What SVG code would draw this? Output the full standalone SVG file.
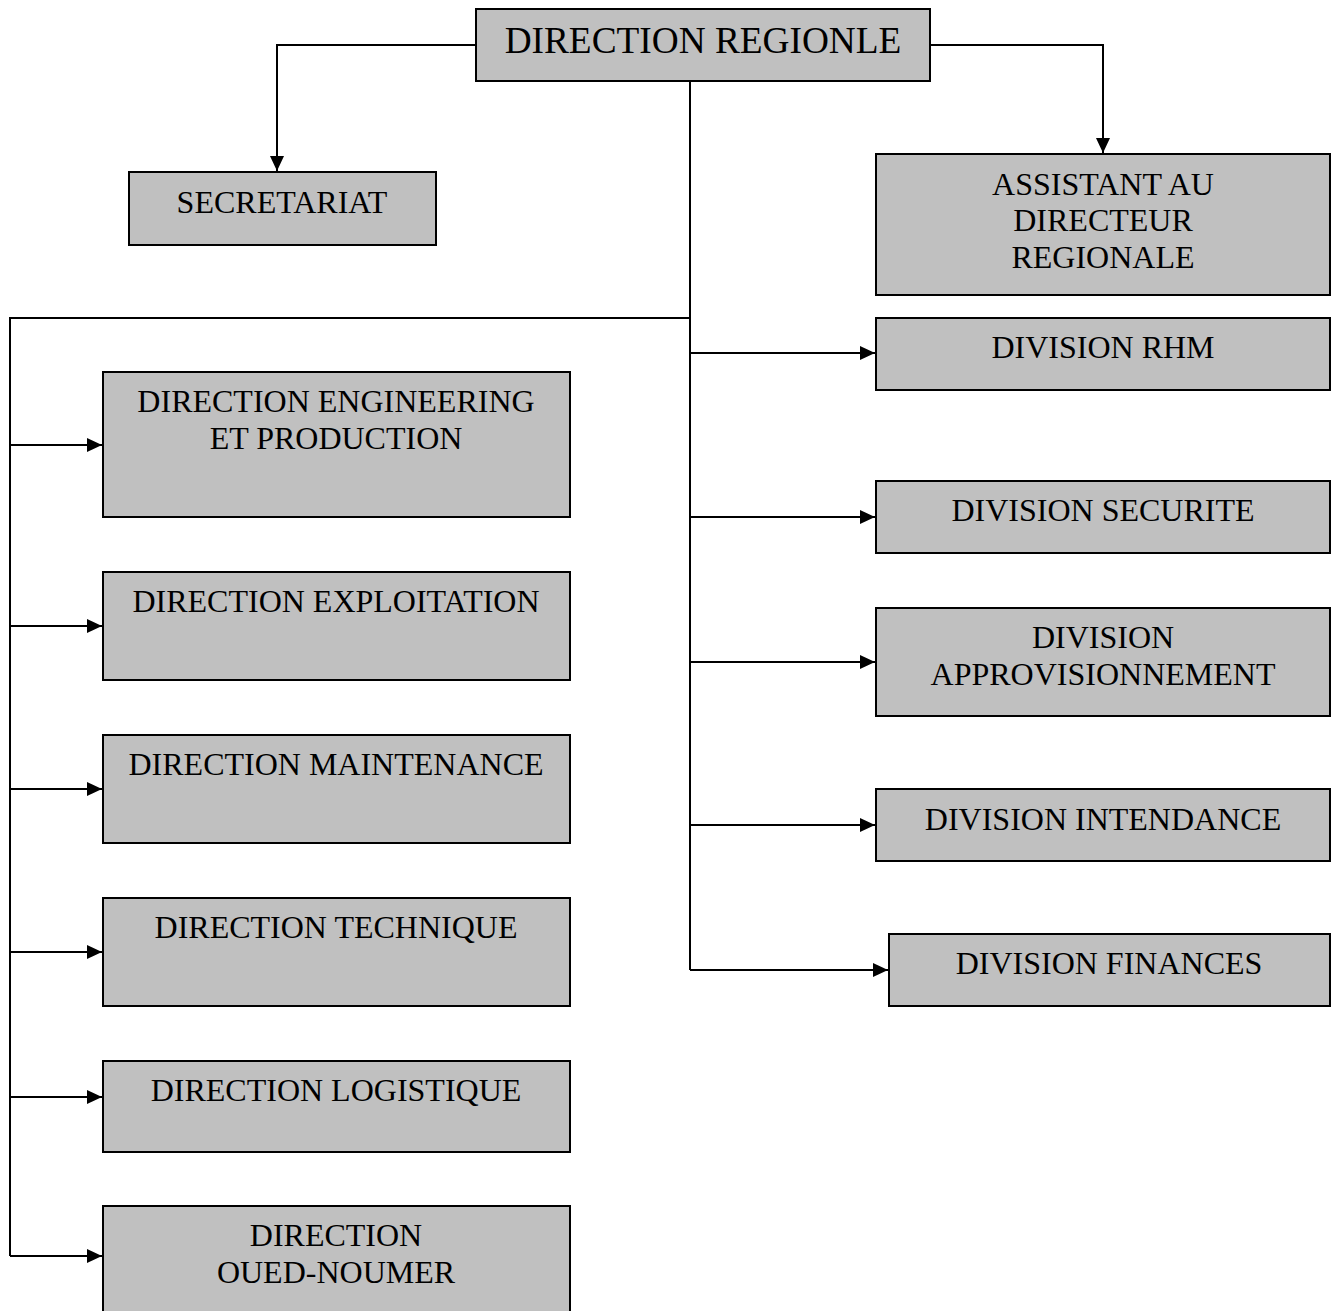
<svg xmlns="http://www.w3.org/2000/svg" width="1334" height="1311" viewBox="0 0 1334 1311">
<defs>
<style>
.box{fill:#c0c0c0;stroke:#000;stroke-width:2}
.t{font-family:"Liberation Serif","Times New Roman",serif;font-size:32px;fill:#000;text-anchor:middle}
.big{font-size:37.3px}
.c{fill:none;stroke:#000;stroke-width:2}
</style>
<marker id="ah" markerUnits="userSpaceOnUse" markerWidth="16" markerHeight="14" refX="15" refY="7" orient="auto">
<path d="M0,0 L15,7 L0,14 Z" fill="#000"/>
</marker>
</defs>
<rect width="1334" height="1311" fill="#fff"/>
<g id="connectors">
<path class="c" d="M476,45 H277 V171" marker-end="url(#ah)"/>
<path class="c" d="M930,45 H1103 V153" marker-end="url(#ah)"/>
<path class="c" d="M690,81 V970"/>
<path class="c" d="M690,318 H10 V1256"/>
<path class="c" d="M10,445 H102" marker-end="url(#ah)"/>
<path class="c" d="M10,626 H102" marker-end="url(#ah)"/>
<path class="c" d="M10,789 H102" marker-end="url(#ah)"/>
<path class="c" d="M10,952 H102" marker-end="url(#ah)"/>
<path class="c" d="M10,1097 H102" marker-end="url(#ah)"/>
<path class="c" d="M10,1256 H102" marker-end="url(#ah)"/>
<path class="c" d="M690,353 H875" marker-end="url(#ah)"/>
<path class="c" d="M690,517 H875" marker-end="url(#ah)"/>
<path class="c" d="M690,662 H875" marker-end="url(#ah)"/>
<path class="c" d="M690,825 H875" marker-end="url(#ah)"/>
<path class="c" d="M690,970 H888" marker-end="url(#ah)"/>
</g>
<g id="direction-regionale"><rect class="box" x="476" y="9" width="454" height="72"/><text class="t big" x="703" y="53">DIRECTION REGIONLE</text></g>
<g id="secretariat"><rect class="box" x="129" y="172" width="307" height="73"/><text class="t" x="282" y="213">SECRETARIAT</text></g>
<g id="assistant"><rect class="box" x="876" y="154" width="454" height="141"/><text class="t" x="1103" y="195">ASSISTANT AU</text><text class="t" x="1103" y="231">DIRECTEUR</text><text class="t" x="1103" y="268">REGIONALE</text></g>
<g id="div-rhm"><rect class="box" x="876" y="318" width="454" height="72"/><text class="t" x="1103" y="358">DIVISION RHM</text></g>
<g id="div-securite"><rect class="box" x="876" y="481" width="454" height="72"/><text class="t" x="1103" y="521">DIVISION SECURITE</text></g>
<g id="div-approvisionnement"><rect class="box" x="876" y="608" width="454" height="108"/><text class="t" x="1103" y="648">DIVISION</text><text class="t" x="1103" y="685">APPROVISIONNEMENT</text></g>
<g id="div-intendance"><rect class="box" x="876" y="789" width="454" height="72"/><text class="t" x="1103" y="830">DIVISION INTENDANCE</text></g>
<g id="div-finances"><rect class="box" x="889" y="934" width="441" height="72"/><text class="t" x="1109" y="974">DIVISION FINANCES</text></g>
<g id="dir-engineering"><rect class="box" x="103" y="372" width="467" height="145"/><text class="t" x="336" y="412">DIRECTION ENGINEERING</text><text class="t" x="336" y="449">ET PRODUCTION</text></g>
<g id="dir-exploitation"><rect class="box" x="103" y="572" width="467" height="108"/><text class="t" x="336" y="612">DIRECTION EXPLOITATION</text></g>
<g id="dir-maintenance"><rect class="box" x="103" y="735" width="467" height="108"/><text class="t" x="336" y="775">DIRECTION MAINTENANCE</text></g>
<g id="dir-technique"><rect class="box" x="103" y="898" width="467" height="108"/><text class="t" x="336" y="938">DIRECTION TECHNIQUE</text></g>
<g id="dir-logistique"><rect class="box" x="103" y="1061" width="467" height="91"/><text class="t" x="336" y="1101">DIRECTION LOGISTIQUE</text></g>
<g id="dir-oued-noumer"><rect class="box" x="103" y="1206" width="467" height="120"/><text class="t" x="336" y="1246">DIRECTION</text><text class="t" x="336" y="1283">OUED-NOUMER</text></g>
</svg>
